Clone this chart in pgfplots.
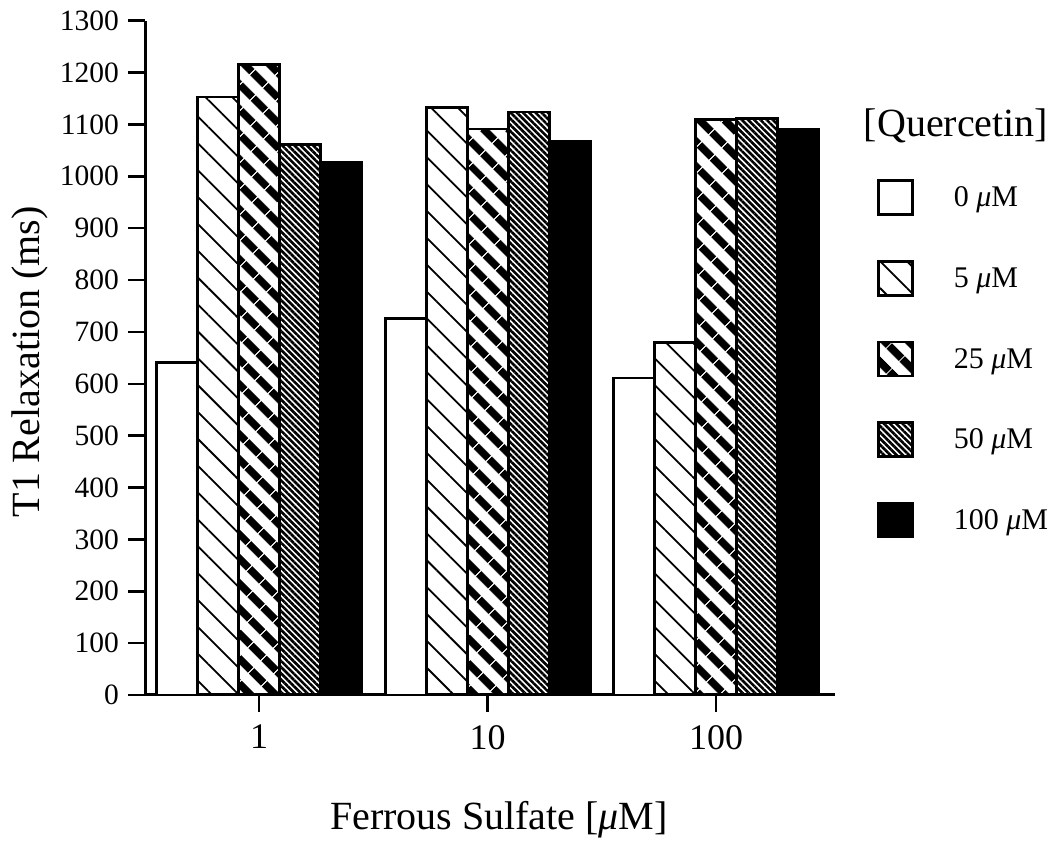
\documentclass[border=0pt]{standalone}
\usepackage{fontspec}
\setmainfont{Liberation Serif}
\usepackage{pgfplots}
\pgfplotsset{compat=1.18}
\usetikzlibrary{patterns.meta}

\pgfplotsset{
  mylegend/.style={legend image code/.code={\draw[##1, line width=2.6pt] (0pt,-17pt) rectangle (34pt,17pt);}},
}

\begin{document}
\begin{tikzpicture}
\path[use as bounding box] (0pt,0pt) rectangle (1058pt,859pt);
\begin{axis}[
  at={(145pt,164pt)}, anchor=south west,
  scale only axis, width=690pt, height=674.3pt,
  xmin=-0.5, xmax=2.52, ymin=0, ymax=1300,
  axis lines=left,
  axis line style={-, line width=3pt, black},
  ybar=0pt, bar width=41pt,
  xtick={0,1,2}, xticklabels={1,10,100},
  ytick={0,100,...,1300},
  tick align=outside, xtick pos=left, ytick pos=left,
  major tick length=17pt,
  tick style={line width=2.5pt, black},
  /pgf/number format/assume math mode=true,
  /pgf/number format/1000 sep={},
  yticklabel style={font=\fontsize{29.5}{34}\selectfont, inner sep=0pt, xshift=-9pt},
  xticklabel style={font=\fontsize{36}{42}\selectfont, inner sep=0pt, yshift=-13pt},
  every axis y label/.style={at={(axis description cs:-0.167,0.494)}, rotate=90, anchor=center, font=\fontsize{40}{48}\selectfont},
  every axis x label/.style={at={(axis description cs:0.513,-0.185)}, anchor=center, font=\fontsize{40}{48}\selectfont},
  ylabel={T1 Relaxation (ms)},
  xlabel={Ferrous Sulfate [\textit{μ}M]},
  legend style={at={(axis description cs:1.061,0.765)}, anchor=north west, draw=none, fill=none,
    inner sep=0pt, row sep=44pt, column sep=40pt,
    font=\fontsize{30}{36}\selectfont,
    nodes={inner sep=0pt}},
  legend cell align=left,
]
\addplot[draw=black, line width=2.8pt, fill=white, mylegend] coordinates {(0,641) (1,726) (2,611)};
\addplot[draw=black, line width=2.8pt, pattern={Lines[angle=-45,distance=19pt,line width=1.8pt]}, pattern color=black, mylegend] coordinates {(0,1153) (1,1132) (2,679)};
\addplot[draw=black, line width=2.8pt, pattern={Lines[angle=-45,distance=18.4pt,line width=8.5pt]}, pattern color=black, mylegend] coordinates {(0,1215) (1,1091) (2,1110)};
\addplot[draw=black, line width=2.8pt, pattern={Lines[angle=-45,distance=4.4pt,line width=2.6pt]}, pattern color=black, mylegend] coordinates {(0,1062) (1,1124) (2,1111)};
\addplot[draw=black, line width=2.8pt, fill=black, mylegend] coordinates {(0,1026) (1,1067) (2,1091)};
\legend{0 \textit{μ}M, 5 \textit{μ}M, 25 \textit{μ}M, 50 \textit{μ}M, 100 \textit{μ}M}
\end{axis}
\node[font=\fontsize{40}{48}\selectfont, anchor=center] at (956pt,733pt) {[Quercetin]};
\end{tikzpicture}
\end{document}
